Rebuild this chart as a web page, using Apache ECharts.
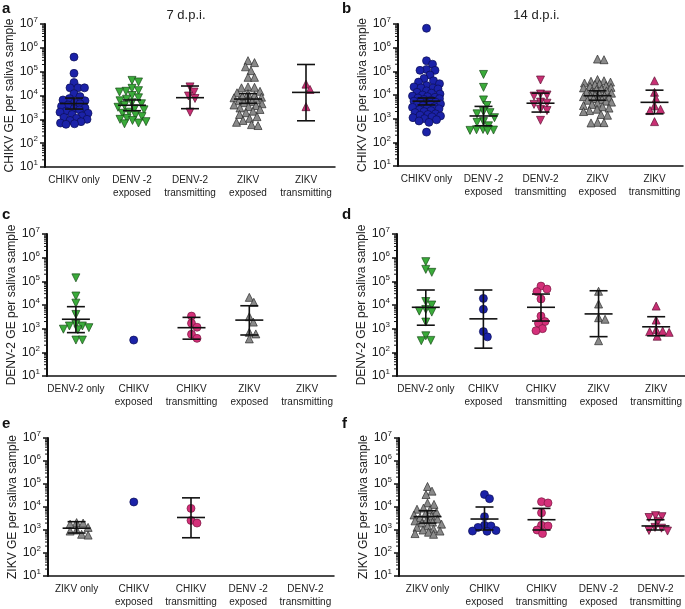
<!DOCTYPE html>
<html><head><meta charset="utf-8">
<script src="https://cdn.jsdelivr.net/npm/echarts@6/dist/echarts.min.js"></script>
<style>html,body{margin:0;padding:0;background:#fff}#c{width:685px;height:609px}</style>
</head><body><div id="c"></div>
<script>
// ---------- categories ----------
const catsAB = ['CHIKV only', 'DENV -2\nexposed', 'DENV-2\ntransmitting', 'ZIKV\nexposed', 'ZIKV\ntransmitting'];
const catsCD = ['DENV-2 only', 'CHIKV\nexposed', 'CHIKV\ntransmitting', 'ZIKV\nexposed', 'ZIKV\ntransmitting'];
const catsEF = ['ZIKV only', 'CHIKV\nexposed', 'CHIKV\ntransmitting', 'DENV -2\nexposed', 'DENV-2\ntransmitting'];
const yNames = ['CHIKV GE per saliva sample', 'CHIKV GE per saliva sample', 'DENV-2 GE per saliva sample', 'DENV-2 GE per saliva sample', 'ZIKV GE per saliva sample', 'ZIKV GE per saliva sample'];
const panelLetters = ['a', 'b', 'c', 'd', 'e', 'f'];
const panelTitles = ['7 d.p.i.', '14 d.p.i.'];
const yMin = 10, yMax = 1e7;
const minorTickDecades = [10, 100, 1000, 1e4, 1e5, 1e6];
const minorTickMultipliers = [2, 3, 4, 5, 6, 7, 8, 9];

// ---------- panel a (7 d.p.i., CHIKV) ----------
const a1 = [4.1e5, 8.5e4, 3.5e4, 2.1e4, 2.1e4, 2.1e4, 1.2e4, 9e3, 7.5e3, 6.5e3, 6e3, 5e3, 4.5e3, 4e3, 3.5e3, 3e3, 2.8e3, 2.5e3, 2.2e3, 2e3, 1.8e3, 1.6e3, 1.4e3, 1.2e3, 1.1e3, 1e3, 900, 800, 700, 650, 620];
const a2 = [4.3e4, 3.7e4, 2e4, 1.6e4, 1.5e4, 1.4e4, 1e4, 8e3, 7e3, 6e3, 5e3, 4.5e3, 3.8e3, 3.2e3, 2.8e3, 2.5e3, 2e3, 1.8e3, 1.5e3, 1.3e3, 1.1e3, 1e3, 900, 800, 700, 650];
const a3 = [2.3e4, 1.4e4, 9.5e3, 7.5e3, 2e3];
const a4 = [2.9e5, 2.4e5, 1.6e5, 1.1e5, 5.8e4, 5.8e4, 2.3e4, 2.2e4, 2.1e4, 1.5e4, 1.3e4, 1.2e4, 1e4, 9e3, 8.5e3, 8e3, 7e3, 6.5e3, 6e3, 5.5e3, 5e3, 4.5e3, 4e3, 3.8e3, 3.4e3, 3e3, 2.6e3, 2.2e3, 1.9e3, 1.6e3, 1.3e3, 1.1e3, 900, 750, 600, 550];
const a5 = [3e4, 1.8e4, 3.4e3];
const statsA = [[4.6e3, 2.7e3, 7.8e3], [3.9e3, 2.3e3, 6.5e3], [8.1e3, 2.8e3, 2.5e4], [7.1e3, 4.7e3, 1.2e4], [1.35e4, 870, 2.0e5]];

// ---------- panel b (14 d.p.i., CHIKV) ----------
const b1 = [6.6e6, 2.8e5, 2.0e5, 1.2e5, 1.1e5, 1.1e5, 7e4, 5e4, 4e4, 3.5e4, 3e4, 2.5e4, 2.2e4, 2e4, 2e4, 1.8e4, 1.5e4, 1.3e4, 1.2e4, 1.1e4, 1e4, 9e3, 8.5e3, 8e3, 7.5e3, 7e3, 6.5e3, 6e3, 5.5e3, 5e3, 5e3, 4.5e3, 4.2e3, 4e3, 3.8e3, 3.5e3, 3.2e3, 3e3, 2.8e3, 2.6e3, 2.4e3, 2.2e3, 2e3, 1.8e3, 1.6e3, 1.5e3, 1.4e3, 1.3e3, 1.2e3, 1.1e3, 1e3, 900, 800, 700, 270];
const b2 = [7.4e4, 2.1e4, 6.2e3, 3.6e3, 2e3, 1.8e3, 1.6e3, 1.1e3, 750, 700, 500, 350, 340, 330, 320, 310];
const b3 = [4.3e4, 1.1e4, 1e4, 9e3, 5e3, 4.5e3, 4e3, 2.5e3, 2.2e3, 850];
const b4 = [3.3e5, 3.1e5, 4.5e4, 4e4, 3.8e4, 3.5e4, 3.2e4, 3e4, 2.8e4, 2.5e4, 2.3e4, 2.1e4, 2e4, 1.8e4, 1.7e4, 1.5e4, 1.4e4, 1.3e4, 1.2e4, 1.1e4, 1e4, 9.5e3, 9e3, 8.5e3, 8e3, 7.5e3, 7e3, 6.5e3, 6e3, 5.5e3, 5e3, 4.5e3, 4e3, 3.6e3, 3.2e3, 2.8e3, 2.5e3, 2.2e3, 2e3, 1.5e3, 1.4e3, 700, 680, 660];
const b5 = [4e4, 1.3e4, 7e3, 3.5e3, 2.5e3, 2.2e3, 750];
const statsB = [[5.5e3, 3.8e3, 7.5e3], [1.3e3, 500, 3.3e3], [4.5e3, 1.9e3, 1.2e4], [9.3e3, 6e3, 1.5e4], [4.9e3, 1.6e3, 1.6e4]];

// ---------- panel c (DENV-2, 7 d.p.i.) ----------
const c1 = [1.4e5, 2.4e4, 1.2e4, 4e3, 1.5e3, 1.3e3, 1.3e3, 1.1e3, 950, 900, 330, 330];
const c2 = [330];
const c3 = [3.4e3, 1.7e3, 1.15e3, 580, 390];
const c4 = [2.1e4, 1.3e4, 3.2e3, 1.9e3, 700, 600, 370];
const c5 = [];
const statsC = [[2.5e3, 680, 8.5e3], null, [1.1e3, 360, 3e3], [2.3e3, 540, 9.3e3], null];

// ---------- panel d (DENV-2, 14 d.p.i.) ----------
const d1 = [6.8e5, 3.2e5, 2.4e5, 1.4e4, 1e4, 6.5e3, 5.5e3, 5e3, 1.9e3, 500, 320, 310];
const d2 = [1.9e4, 6.6e3, 750, 450];
const d3 = [6.3e4, 4.7e4, 3.7e4, 1.8e4, 3.4e3, 2e3, 1.7e3, 1e3, 820];
const d4 = [3.8e4, 1.1e4, 2.9e3, 2.5e3, 310];
const d5 = [9e3, 2.3e3, 900, 800, 750, 700, 480];
const statsD = [[8e3, 1.4e3, 4.3e4], [2.6e3, 150, 4.3e4], [8e3, 2.1e3, 2.9e4], [4.2e3, 460, 4e4], [1.2e3, 500, 3.2e3]];

// ---------- panel e (ZIKV, 7 d.p.i.) ----------
const e1 = [2.1e3, 2e3, 1.8e3, 1.3e3, 1e3, 900, 650, 600];
const e2 = [1.65e4];
const e3 = [8.7e3, 2.6e3, 2e3];
const e4 = [];
const e5 = [];
const statsE = [[1.2e3, 740, 2.3e3], null, [3.5e3, 460, 2.5e4], null, null];

// ---------- panel f (ZIKV, 14 d.p.i.) ----------
const f1 = [7.8e4, 4.9e4, 3.5e4, 1.5e4, 1.3e4, 9e3, 8e3, 7.5e3, 6e3, 5e3, 4.5e3, 4e3, 3.5e3, 3e3, 2.8e3, 2.5e3, 2.2e3, 2e3, 1.8e3, 1.5e3, 1.3e3, 1.1e3, 1e3, 900, 800, 700, 650];
const f2 = [3.5e4, 2.3e4, 3.8e3, 1.6e3, 1.5e3, 1.3e3, 950, 900, 880];
const f3 = [1.7e4, 1.5e4, 5.6e3, 1.6e3, 1.5e3, 1e3, 700];
const f4 = [];
const f5 = [4.2e3, 3.8e3, 3.5e3, 2.3e3, 1.3e3, 1.2e3, 950, 900];
const statsF = [[3.8e3, 2e3, 6.9e3], [3e3, 1e3, 1e4], [2.8e3, 1e3, 8.7e3], null, [1.5e3, 1e3, 2.8e3]];

// ---------- styling / layout ----------
const FONT = '"Liberation Sans", Arial, Helvetica, sans-serif';
const markers = {
  blueC: { symbol: 'circle', size: 8, rotate: 0, color: '#1b22a8', border: '#0b0f55' },
  pinkC: { symbol: 'circle', size: 8, rotate: 0, color: '#d4307a', border: '#7a1740' },
  greenD: { symbol: 'triangle', size: 8, rotate: 180, color: '#3aab3a', border: '#174a17' },
  pinkD: { symbol: 'triangle', size: 8, rotate: 180, color: '#c92f74', border: '#5e1033' },
  greyU: { symbol: 'triangle', size: 8, rotate: 0, color: '#8a8a8a', border: '#2b2b2b' },
  pinkU: { symbol: 'triangle', size: 8, rotate: 0, color: '#c92f74', border: '#5e1033' }
};
const SWARM_MAX = 14; // max horizontal spread (px) from category centre
const panels = [
  { cats: catsAB, groups: [a1, a2, a3, a4, a5], stats: statsA, kinds: ['blueC', 'greenD', 'pinkD', 'greyU', 'pinkU'], grid: { left: 45, top: 24, width: 290, height: 143 } },
  { cats: catsAB, groups: [b1, b2, b3, b4, b5], stats: statsB, kinds: ['blueC', 'greenD', 'pinkD', 'greyU', 'pinkU'], grid: { left: 398, top: 24, width: 285, height: 142 } },
  { cats: catsCD, groups: [c1, c2, c3, c4, c5], stats: statsC, kinds: ['greenD', 'blueC', 'pinkC', 'greyU', 'pinkU'], grid: { left: 47, top: 234, width: 289, height: 142 } },
  { cats: catsCD, groups: [d1, d2, d3, d4, d5], stats: statsD, kinds: ['greenD', 'blueC', 'pinkC', 'greyU', 'pinkU'], grid: { left: 397, top: 234, width: 288, height: 142 } },
  { cats: catsEF, groups: [e1, e2, e3, e4, e5], stats: statsE, kinds: ['greyU', 'blueC', 'pinkC', 'greenD', 'pinkD'], grid: { left: 48, top: 438, width: 286, height: 141 } },
  { cats: catsEF, groups: [f1, f2, f3, f4, f5], stats: statsF, kinds: ['greyU', 'blueC', 'pinkC', 'greenD', 'pinkD'], grid: { left: 399, top: 438, width: 285, height: 141 } }
];

// beeswarm horizontal offsets (pixels), limited spread; overlap allowed when crowded
function swarm(vals, pxPerDecade, diam, maxOff) {
  const order = vals.map((v, i) => i).sort((p, q) => vals[q] - vals[p]);
  const placed = [];
  const offs = new Array(vals.length).fill(0);
  order.forEach(i => {
    const y = Math.log10(vals[i]) * pxPerDecade;
    let chosen = null, bestX = 0, bestD = -1;
    for (let k = 0; k < 200; k++) {
      const x = (k % 2 === 1 ? 1 : -1) * Math.ceil(k / 2) * 0.5;
      if (Math.abs(x) > maxOff) break;
      let minD = Infinity;
      for (const p of placed) {
        const dx = p[0] - x, dy = p[1] - y;
        minD = Math.min(minD, Math.sqrt(dx * dx + dy * dy));
      }
      if (minD >= diam) { chosen = x; break; }
      if (minD > bestD + 0.3) { bestD = minD; bestX = x; }
    }
    if (chosen === null) chosen = bestX;
    placed.push([chosen, y]);
    offs[i] = chosen;
  });
  return offs;
}

const minorData = [];
minorTickDecades.forEach(d => minorTickMultipliers.forEach(m => minorData.push([0, d * m])));

const grids = [], xAxes = [], yAxes = [], series = [], graphics = [];
panels.forEach((p, pi) => {
  grids.push(p.grid);
  xAxes.push({
    type: 'category', gridIndex: pi, data: p.cats,
    axisLine: { lineStyle: { color: '#111', width: 1.5 } },
    axisTick: { alignWithLabel: true, length: 4, lineStyle: { color: '#111', width: 1.2 } },
    axisLabel: { fontFamily: FONT, fontSize: 10, color: '#222', lineHeight: 13, margin: 7, interval: 0 },
    splitLine: { show: false }
  });
  yAxes.push({
    type: 'log', gridIndex: pi, min: yMin, max: yMax, logBase: 10, splitNumber: 6,
    name: yNames[pi], nameLocation: 'middle', nameGap: 29,
    nameTextStyle: { fontFamily: FONT, fontSize: 12, color: '#222' },
    axisLine: { show: true, lineStyle: { color: '#111', width: 2 } },
    axisTick: { show: true, length: 5, lineStyle: { color: '#111', width: 1.5 } },
    minorTick: { show: false },
    splitLine: { show: false },
    axisLabel: {
      margin: 7, color: '#222', fontSize: 12, fontFamily: FONT,
      formatter: v => '{b|10}{e|' + Math.round(Math.log10(v)) + '}',
      rich: {
        b: { fontFamily: FONT, fontSize: 12.5, color: '#222' },
        e: { fontFamily: FONT, fontSize: 8, color: '#222', verticalAlign: 'top', padding: [0, 0, 8, 0] }
      }
    }
  });
  series.push({
    type: 'custom', xAxisIndex: pi, yAxisIndex: pi, z: 1, silent: true,
    encode: { x: 0, y: 1 }, clip: false,
    data: minorData,
    renderItem: (params, api) => {
      const pt = api.coord([0, api.value(1)]);
      const x0 = params.coordSys.x;
      return { type: 'line', shape: { x1: x0 - 3, y1: pt[1], x2: x0, y2: pt[1] }, style: { stroke: '#111', lineWidth: 1 } };
    }
  });
  const ppd = p.grid.height / 6;
  p.groups.forEach((vals, gi) => {
    if (!vals.length) return;
    const m = markers[p.kinds[gi]];
    const offs = swarm(vals, ppd, m.size - 1.5, SWARM_MAX);
    series.push({
      type: 'scatter', xAxisIndex: pi, yAxisIndex: pi, z: 2,
      symbol: m.symbol, symbolSize: m.size, symbolRotate: m.rotate,
      itemStyle: { color: m.color, borderColor: m.border, borderWidth: 0.7, opacity: 1 },
      emphasis: { disabled: true },
      data: vals.map((v, k) => ({ value: [gi, v], symbolOffset: [offs[k], 0] }))
    });
  });
  const statData = [];
  p.stats.forEach((s, gi) => { if (s) statData.push([gi, s[0], s[1], s[2]]); });
  series.push({
    type: 'custom', xAxisIndex: pi, yAxisIndex: pi, z: 5,
    encode: { x: 0, y: [1, 2, 3] },
    data: statData,
    renderItem: (params, api) => {
      const c = api.value(0);
      const m = api.coord([c, api.value(1)]);
      const lo = api.coord([c, api.value(2)]);
      const hi = api.coord([c, api.value(3)]);
      const st = { stroke: '#111', lineWidth: 1.6 };
      return {
        type: 'group', children: [
          { type: 'line', shape: { x1: m[0], y1: hi[1], x2: m[0], y2: lo[1] }, style: st },
          { type: 'line', shape: { x1: m[0] - 9, y1: hi[1], x2: m[0] + 9, y2: hi[1] }, style: st },
          { type: 'line', shape: { x1: m[0] - 9, y1: lo[1], x2: m[0] + 9, y2: lo[1] }, style: st },
          { type: 'line', shape: { x1: m[0] - 14, y1: m[1], x2: m[0] + 14, y2: m[1] }, style: st }
        ]
      };
    }
  });
  graphics.push({
    type: 'text', left: (pi % 2 === 0 ? 2 : 342), top: [1, 1, 207, 207, 416, 416][pi],
    style: { text: panelLetters[pi], font: 'bold 15px ' + FONT, fill: '#111' }
  });
});
panelTitles.forEach((t, i) => {
  graphics.push({
    type: 'text', x: panels[i].grid.left + panels[i].grid.width / 2 - 4, y: 9,
    style: { text: t, font: '13px ' + FONT, fill: '#222', textAlign: 'center' }
  });
});

const chart = echarts.init(document.getElementById('c'), null, { renderer: 'canvas' });
chart.setOption({
  animation: false, backgroundColor: '#fff',
  grid: grids, xAxis: xAxes, yAxis: yAxes, series: series, graphic: graphics
});
</script></body></html>
